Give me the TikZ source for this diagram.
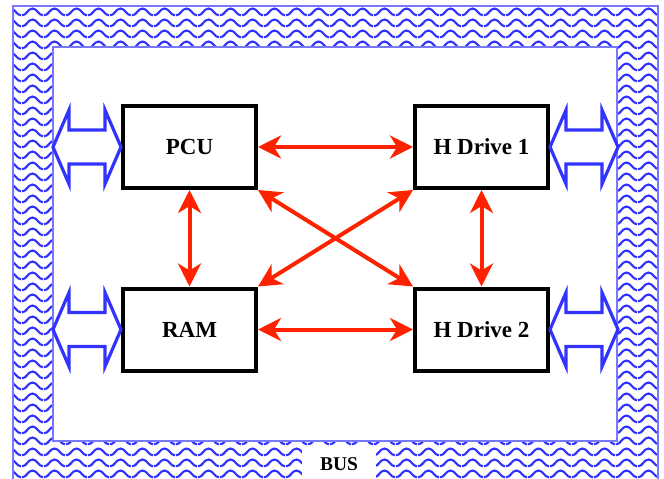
\documentclass[tikz,border=0pt]{standalone}
\usepackage{fontspec}
\setmainfont{Liberation Serif}
\usetikzlibrary{arrows.meta,patterns}

\definecolor{busblue}{RGB}{51,51,255}
\definecolor{framebl}{RGB}{120,120,255}
\definecolor{linkred}{RGB}{255,34,0}

% wavy fill of the bus frame
\pgfdeclarepatternformonly{busweave}{\pgfqpoint{0pt}{0pt}}{\pgfqpoint{22pt}{11pt}}{\pgfqpoint{22pt}{11pt}}{
  \pgfsetlinewidth{2.3pt}
  \pgfpathmoveto{\pgfqpoint{0pt}{1.8pt}}
  \pgfpathcurveto{\pgfqpoint{5pt}{1.8pt}}{\pgfqpoint{6pt}{9.2pt}}{\pgfqpoint{11pt}{9.2pt}}
  \pgfpathcurveto{\pgfqpoint{16pt}{9.2pt}}{\pgfqpoint{17pt}{1.8pt}}{\pgfqpoint{22pt}{1.8pt}}
  \pgfusepath{stroke}
}

\begin{document}
\begin{tikzpicture}[x=1pt,y=-1pt]
\useasboundingbox (0,0) rectangle (664,479);
\fill[white] (0,0) rectangle (664,479);

\tikzset{UnitStyle/.style = {
 draw, line width = 4pt,
 minimum width = 133pt, minimum height = 82pt,
 font = \fontsize{23}{27}\selectfont\bfseries} }
\tikzset{LinkStyle/.style = {
 linkred, line width = 4pt,
 {Stealth[length=23pt,width=23pt,inset=7pt]}-{Stealth[length=23pt,width=23pt,inset=7pt]}} }
\tikzset{BusArrow/.style = {
 draw = busblue, fill = white, line width = 3.2pt, line join = miter} }

% the bus frame
\begin{scope}
\clip (0,0) rectangle (664,479);
\fill[pattern=busweave, pattern color=busblue, even odd rule]
  (13,6) rectangle (658,490) (53,47) rectangle (617,441);
\draw[framebl, line width=1.5pt] (13,6) rectangle (658,490);
\draw[framebl, line width=1.5pt] (53,47) rectangle (617,441);
\end{scope}
\node[fill=white, minimum width=74pt, minimum height=34pt, anchor=north,
  font=\fontsize{19.5}{23}\selectfont\bfseries] (bus) at (339,447) {BUS};

\node[UnitStyle] (pcu) at (189.5,147) {PCU};
\node[UnitStyle] (hdone) at (481.5,147) {H Drive 1};
\node[UnitStyle] (ram) at (189.5,329.5) {RAM};
\node[UnitStyle] (hdtwo) at (481.5,329.5) {H Drive 2};

\draw[LinkStyle] (pcu.east) -- (hdone.west);
\draw[LinkStyle] (ram.east) -- (hdtwo.west);
\draw[LinkStyle] (pcu.south) -- (ram.north);
\draw[LinkStyle] (hdone.south) -- (hdtwo.north);
\draw[LinkStyle] (pcu.south east) -- (hdtwo.north west);
\draw[LinkStyle] (ram.north east) -- (hdone.south west);

\foreach \n/\a/\s in {pcu/west/-1, ram/west/-1, hdone/east/1, hdtwo/east/1}
  \draw[BusArrow] (\n.\a) -- ++({\s*16},-37) -- ++(0,20) -- ++({\s*36},0) -- ++(0,-20)
    -- ++({\s*16},37) -- ++({-\s*16},37) -- ++(0,-20) -- ++({-\s*36},0) -- ++(0,20) -- cycle;

\end{tikzpicture}
\end{document}
